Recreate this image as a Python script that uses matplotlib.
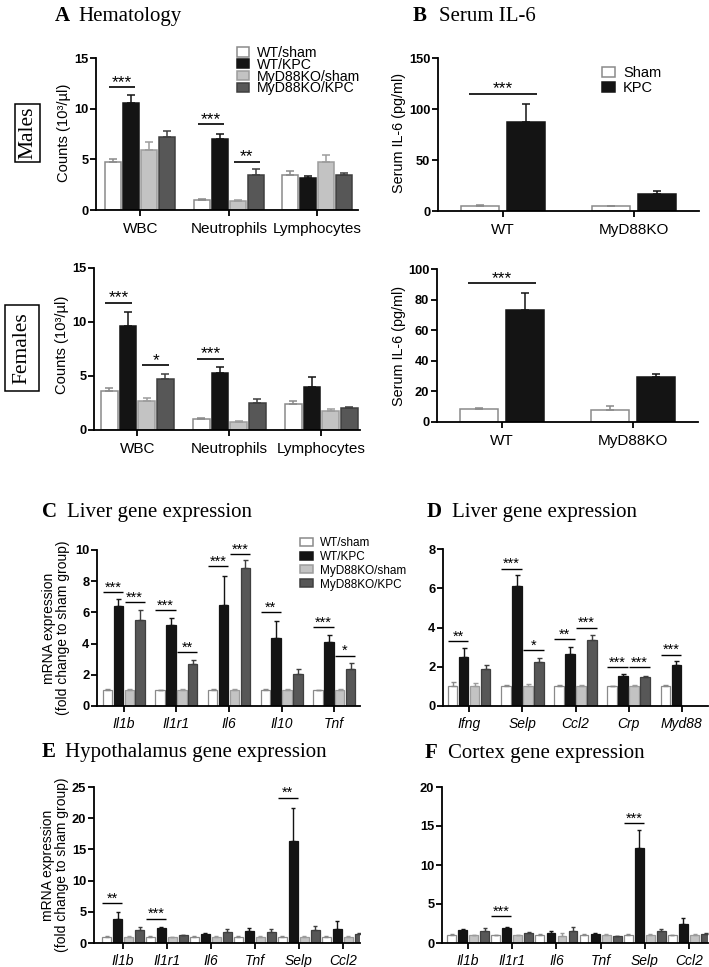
import numpy as np
import matplotlib
matplotlib.use("Agg")
import matplotlib.pyplot as plt
from matplotlib.patches import Rectangle

plt.rcParams['font.family'] = ['Liberation Sans', 'DejaVu Sans']
SERIF = ['Liberation Serif', 'DejaVu Serif']

# ---------------- data ----------------
group_names = ['WT/sham', 'WT/KPC', 'MyD88KO/sham', 'MyD88KO/KPC']
serum_names = ['Sham', 'KPC']

hema_cats = ['WBC', 'Neutrophils', 'Lymphocytes']
male_wt_sham = [4.75, 0.98, 3.44]
male_wt_kpc = [10.6, 7.05, 3.11]
male_ko_sham = [5.97, 0.89, 4.75]
male_ko_kpc = [7.2, 3.5, 3.41]
male_wt_sham_err = [0.33, 0.10, 0.40]
male_wt_kpc_err = [0.70, 0.49, 0.27]
male_ko_sham_err = [0.75, 0.11, 0.66]
male_ko_kpc_err = [0.57, 0.50, 0.29]

female_wt_sham = [3.6, 0.98, 2.4]
female_wt_kpc = [9.63, 5.29, 3.97]
female_ko_sham = [2.7, 0.74, 1.78]
female_ko_kpc = [4.7, 2.52, 2.0]
female_wt_sham_err = [0.30, 0.12, 0.28]
female_wt_kpc_err = [1.27, 0.56, 0.93]
female_ko_sham_err = [0.28, 0.12, 0.19]
female_ko_kpc_err = [0.47, 0.34, 0.15]

serum_cats = ['WT', 'MyD88KO']
male_il6_sham = [5.0, 4.5]
male_il6_kpc = [87.0, 16.5]
male_il6_sham_err = [0.9, 0.8]
male_il6_kpc_err = [18.0, 2.8]
female_il6_sham = [8.5, 8.0]
female_il6_kpc = [73.0, 29.5]
female_il6_sham_err = [0.8, 2.5]
female_il6_kpc_err = [11.5, 2.0]

liverC_genes = ['Il1b', 'Il1r1', 'Il6', 'Il10', 'Tnf']
liverC_wt_sham = [1.0, 1.0, 1.0, 1.0, 1.0]
liverC_wt_kpc = [6.4, 5.2, 6.47, 4.35, 4.1]
liverC_ko_sham = [1.0, 1.0, 1.0, 1.0, 1.0]
liverC_ko_kpc = [5.5, 2.7, 8.85, 2.06, 2.36]
liverC_wt_sham_err = [0.12, 0.05, 0.12, 0.12, 0.05]
liverC_wt_kpc_err = [0.43, 0.46, 1.85, 1.1, 0.45]
liverC_ko_sham_err = [0.08, 0.06, 0.08, 0.12, 0.08]
liverC_ko_kpc_err = [0.68, 0.27, 0.5, 0.32, 0.38]

liverD_genes = ['Ifng', 'Selp', 'Ccl2', 'Crp', 'Myd88']
liverD_wt_sham = [1.0, 1.0, 1.0, 1.0, 1.0]
liverD_wt_kpc = [2.5, 6.1, 2.66, 1.52, 2.11]
liverD_ko_sham = [1.0, 1.0, 1.0, 1.0, np.nan]
liverD_ko_kpc = [1.89, 2.25, 3.36, 1.5, np.nan]
liverD_wt_sham_err = [0.23, 0.08, 0.08, 0.04, 0.05]
liverD_wt_kpc_err = [0.43, 0.58, 0.37, 0.1, 0.18]
liverD_ko_sham_err = [0.15, 0.1, 0.06, 0.06, np.nan]
liverD_ko_kpc_err = [0.22, 0.22, 0.28, 0.04, np.nan]

brain_genes = ['Il1b', 'Il1r1', 'Il6', 'Tnf', 'Selp', 'Ccl2']
hyp_wt_sham = [1.0, 1.0, 1.0, 1.0, 1.0, 1.0]
hyp_wt_kpc = [3.9, 2.4, 1.5, 1.87, 16.4, 2.3]
hyp_ko_sham = [1.0, 0.9, 1.0, 1.0, 1.0, 1.0]
hyp_ko_kpc = [2.14, 1.3, 1.76, 1.76, 2.1, 1.5]
hyp_wt_sham_err = [0.15, 0.1, 0.06, 0.15, 0.2, 0.1]
hyp_wt_kpc_err = [1.1, 0.15, 0.18, 0.5, 5.3, 1.2]
hyp_ko_sham_err = [0.2, 0.06, 0.1, 0.15, 0.15, 0.06]
hyp_ko_kpc_err = [0.4, 0.06, 0.42, 0.5, 0.55, 0.15]

ctx_wt_sham = [1.0, 1.0, 1.0, 1.0, 1.0, 1.0]
ctx_wt_kpc = [1.7, 1.9, 1.3, 1.15, 12.2, 2.4]
ctx_ko_sham = [1.0, 1.0, 0.95, 1.0, 1.0, 1.0]
ctx_ko_kpc = [1.6, 1.3, 1.6, 0.85, 1.5, 1.15]
ctx_wt_sham_err = [0.15, 0.05, 0.1, 0.15, 0.15, 0.05]
ctx_wt_kpc_err = [0.1, 0.1, 0.2, 0.1, 2.3, 0.8]
ctx_ko_sham_err = [0.06, 0.05, 0.35, 0.1, 0.1, 0.15]
ctx_ko_kpc_err = [0.35, 0.05, 0.4, 0.1, 0.35, 0.15]

# ---------------- style ----------------
FACE4 = ['white', '#141414', '#c3c3c3', '#575757']
EDGE4 = ['#8a8a8a', '#141414', '#9c9c9c', '#3f3f3f']
FACE2 = ['white', '#141414']
EDGE2 = ['#8a8a8a', '#141414']

W, H = 709, 967
fig = plt.figure(figsize=(W / 100, H / 100), dpi=100)


def fx(px):
    return px / W


def fy(py):
    return 1 - py / H


def make_ax(l, t, r, b):
    return fig.add_axes([l / W, 1 - b / H, (r - l) / W, (b - t) / H])


def style_ax(ax, ylim, yticks, xlim, cats, xfs, italic=False, ytfs=9.3, xpad=4.5):
    ax.set_ylim(*ylim)
    ax.set_xlim(*xlim)
    ax.set_yticks(yticks)
    ax.set_xticks(range(len(cats)))
    ax.set_xticklabels(cats, fontsize=xfs, style='italic' if italic else 'normal')
    for s in ['top', 'right']:
        ax.spines[s].set_visible(False)
    for s in ['left', 'bottom']:
        ax.spines[s].set_linewidth(1.3)
    ax.tick_params(axis='y', length=4, width=1.3, labelsize=ytfs, pad=1.5)
    ax.tick_params(axis='x', length=4, width=1.3, pad=xpad)
    for lab in ax.get_yticklabels():
        lab.set_fontweight('bold')


def draw_bars(ax, series, errs, faces, edges, step, width, lw, cap, elw):
    n = len(series)
    for i in range(n):
        vals = np.asarray(series[i], dtype=float)
        er = np.asarray(errs[i], dtype=float)
        x = np.arange(len(vals)) + (i - (n - 1) / 2) * step
        ok = np.isfinite(vals)
        ax.bar(x[ok], vals[ok], width=width, color=faces[i], edgecolor=edges[i],
               linewidth=lw, zorder=2)
        ax.errorbar(x[ok], vals[ok], yerr=[np.zeros(ok.sum()), er[ok]], fmt='none',
                    ecolor=edges[i], elinewidth=elw, capsize=cap, capthick=elw, zorder=3)


def sig(ax, g, i, j, y, stars, n, step, width, f, fs, lw=1.2):
    x1 = g + (i - (n - 1) / 2) * step - f * width
    x2 = g + (j - (n - 1) / 2) * step + f * width
    ax.plot([x1, x2], [y, y], color='black', lw=lw, solid_capstyle='butt', clip_on=False)
    ax.annotate(stars, xy=((x1 + x2) / 2, y), xytext=(0, 0.3), textcoords='offset points',
                ha='center', va='baseline', fontsize=fs)


def title(xl, xw, base, letter, word, fs=15):
    fig.text(fx(xl), fy(base), letter, fontsize=fs, fontweight='bold', family=SERIF, va='baseline')
    fig.text(fx(xw), fy(base), word, fontsize=fs, family=SERIF, va='baseline')


def legend(x, y0, dy, bw, bh, tx, labels, faces, edges, fs):
    # swatches
    for k, (fc, ec) in enumerate(zip(faces, edges)):
        yy = y0 + k * dy
        fig.patches.append(Rectangle((fx(x), fy(yy + bh / 2)), bw / W, bh / H,
                                     transform=fig.transFigure, facecolor=fc,
                                     edgecolor=ec, linewidth=1.1))
    # labels as one multi-line text
    em = fs * 100 / 72
    ls = (dy - 0.22 * em) / (0.77 * em)
    fig.text(fx(tx), fy(y0 - 0.41 * em), '\n'.join(labels), fontsize=fs,
             va='top', ha='left', linespacing=ls)


def ylabel_px(text, xpx, ypx, fs, ls=1.0):
    fig.text(fx(xpx), fy(ypx), text, rotation=90, ha='center', va='center',
             fontsize=fs, linespacing=ls)


# ---------------- Panel A males ----------------
STEP_A, W_A = 0.203, 0.18
axAm = make_ax(96, 58, 358, 210)
draw_bars(axAm, [male_wt_sham, male_wt_kpc, male_ko_sham, male_ko_kpc],
          [male_wt_sham_err, male_wt_kpc_err, male_ko_sham_err, male_ko_kpc_err],
          FACE4, EDGE4, STEP_A, W_A, 1.1, 2.6, 1.1)
style_ax(axAm, (0, 15), [0, 5, 10, 15], (-0.5, 2.46), hema_cats, 11)
sig(axAm, 0, 0, 1, 12.1, '***', 4, STEP_A, W_A, 0.25, 12.5)
sig(axAm, 1, 0, 1, 8.46, '***', 4, STEP_A, W_A, 0.25, 12.5)
sig(axAm, 1, 2, 3, 4.75, '**', 4, STEP_A, W_A, 0.25, 12.5)
ylabel_px('Counts (10³/µl)', 64, 133, 10.6)

# ---------------- Panel A females ----------------
axAf = make_ax(94, 268, 360, 430)
draw_bars(axAf, [female_wt_sham, female_wt_kpc, female_ko_sham, female_ko_kpc],
          [female_wt_sham_err, female_wt_kpc_err, female_ko_sham_err, female_ko_kpc_err],
          FACE4, EDGE4, STEP_A, W_A, 1.1, 2.6, 1.1)
style_ax(axAf, (0, 15), [0, 5, 10, 15], (-0.47, 2.42), hema_cats, 11)
sig(axAf, 0, 0, 1, 11.8, '***', 4, STEP_A, W_A, 0.25, 12.5)
sig(axAf, 0, 2, 3, 6.0, '*', 4, STEP_A, W_A, 0.25, 12.5)
sig(axAf, 1, 0, 1, 6.6, '***', 4, STEP_A, W_A, 0.25, 12.5)
ylabel_px('Counts (10³/µl)', 62, 345, 10.6)

# ---------------- Panel B ----------------
STEP_B, W_B = 0.35, 0.29
axBm = make_ax(438, 58, 699, 211)
draw_bars(axBm, [male_il6_sham, male_il6_kpc], [male_il6_sham_err, male_il6_kpc_err],
          FACE2, EDGE2, STEP_B, W_B, 1.1, 3.0, 1.1)
style_ax(axBm, (0, 150), [0, 50, 100, 150], (-0.5, 1.5), serum_cats, 11)
sig(axBm, 0, 0, 1, 115, '***', 2, STEP_B, W_B, 0.3, 12.5)
ylabel_px('Serum IL-6 (pg/ml)', 399, 133, 10.4)

axBf = make_ax(437, 269, 698, 422)
draw_bars(axBf, [female_il6_sham, female_il6_kpc], [female_il6_sham_err, female_il6_kpc_err],
          FACE2, EDGE2, STEP_B, W_B, 1.1, 3.0, 1.1)
style_ax(axBf, (0, 100), [0, 20, 40, 60, 80, 100], (-0.5, 1.5), serum_cats, 11)
sig(axBf, 0, 0, 1, 90.8, '***', 2, STEP_B, W_B, 0.3, 12.5)
ylabel_px('Serum IL-6 (pg/ml)', 399, 346, 10.4)

# ---------------- Panel C ----------------
STEP_C, W_C = 0.207, 0.18
axC = make_ax(97, 550, 360, 706)
draw_bars(axC, [liverC_wt_sham, liverC_wt_kpc, liverC_ko_sham, liverC_ko_kpc],
          [liverC_wt_sham_err, liverC_wt_kpc_err, liverC_ko_sham_err, liverC_ko_kpc_err],
          FACE4, EDGE4, STEP_C, W_C, 0.9, 1.8, 1.0)
style_ax(axC, (0, 10), [0, 2, 4, 6, 8, 10], (-0.51, 4.49), liverC_genes, 10, italic=True, xpad=4)
for g, i, j, y, s in [(0, 0, 1, 7.3, '***'), (0, 2, 3, 6.65, '***'),
                      (1, 0, 1, 6.15, '***'), (1, 2, 3, 3.45, '**'),
                      (2, 0, 1, 8.98, '***'), (2, 2, 3, 9.72, '***'),
                      (3, 0, 1, 6.0, '**'),
                      (4, 0, 1, 5.06, '***'), (4, 2, 3, 3.23, '*')]:
    sig(axC, g, i, j, y, s, 4, STEP_C, W_C, 0.5, 10.5, lw=1.0)
ylabel_px('mRNA expression\n(fold change to sham group)', 56, 628, 10, ls=0.95)

# ---------------- Panel D ----------------
axD = make_ax(443, 549, 708, 706)
draw_bars(axD, [liverD_wt_sham, liverD_wt_kpc, liverD_ko_sham, liverD_ko_kpc],
          [liverD_wt_sham_err, liverD_wt_kpc_err, liverD_ko_sham_err, liverD_ko_kpc_err],
          FACE4, EDGE4, STEP_C, W_C, 0.9, 1.8, 1.0)
style_ax(axD, (0, 8), [0, 2, 4, 6, 8], (-0.49, 4.49), liverD_genes, 10, italic=True, xpad=4)
for g, i, j, y, s in [(0, 0, 1, 3.3, '**'),
                      (1, 0, 1, 7.0, '***'), (1, 2, 3, 2.85, '*'),
                      (2, 0, 1, 3.4, '**'), (2, 2, 3, 3.99, '***'),
                      (3, 0, 1, 1.98, '***'), (3, 2, 3, 1.98, '***'),
                      (4, 0, 1, 2.62, '***')]:
    sig(axD, g, i, j, y, s, 4, STEP_C, W_C, 0.5, 10.5, lw=1.0)

# ---------------- Panel E ----------------
STEP_E, W_E = 0.25, 0.2
axE = make_ax(94, 787, 360, 943)
draw_bars(axE, [hyp_wt_sham, hyp_wt_kpc, hyp_ko_sham, hyp_ko_kpc],
          [hyp_wt_sham_err, hyp_wt_kpc_err, hyp_ko_sham_err, hyp_ko_kpc_err],
          FACE4, EDGE4, STEP_E, W_E, 0.9, 1.6, 1.0)
style_ax(axE, (0, 25), [0, 5, 10, 15, 20, 25], (-0.66, 5.39), brain_genes, 10, italic=True, xpad=4)
for g, i, j, y, s in [(0, 0, 1, 6.4, '**'), (1, 0, 1, 3.9, '***'), (4, 0, 1, 23.3, '**')]:
    sig(axE, g, i, j, y, s, 4, STEP_E, W_E, 0.5, 10.5, lw=1.0)
ylabel_px('mRNA expression\n(fold change to sham group)', 55, 865, 10, ls=0.95)

# ---------------- Panel F ----------------
axF = make_ax(442, 787, 708, 943)
draw_bars(axF, [ctx_wt_sham, ctx_wt_kpc, ctx_ko_sham, ctx_ko_kpc],
          [ctx_wt_sham_err, ctx_wt_kpc_err, ctx_ko_sham_err, ctx_ko_kpc_err],
          FACE4, EDGE4, STEP_E, W_E, 0.9, 1.6, 1.0)
style_ax(axF, (0, 20), [0, 5, 10, 15, 20], (-0.59, 5.43), brain_genes, 10, italic=True, xpad=4)
for g, i, j, y, s in [(1, 0, 1, 3.5, '***'), (4, 0, 1, 15.4, '***')]:
    sig(axF, g, i, j, y, s, 4, STEP_E, W_E, 0.5, 10.5, lw=1.0)

# ---------------- titles ----------------
title(55, 78, 21, 'A', 'Hematology')
title(413, 439, 21, 'B', 'Serum IL-6')
title(42, 67, 517, 'C', 'Liver gene expression')
title(427, 452, 517, 'D', 'Liver gene expression')
title(42, 65, 757, 'E', 'Hypothalamus gene expression')
title(425, 448, 758, 'F', 'Cortex gene expression')

# ---------------- legends ----------------
legend(237, 52, 11.8, 12, 9, 257, group_names, FACE4, EDGE4, 10.2)
legend(602, 72, 15, 13, 9, 623, serum_names, FACE2, EDGE2, 10.5)
legend(300, 542, 13.5, 13, 8, 320, group_names, FACE4, EDGE4, 8.5)

# ---------------- sex labels ----------------
fig.text(fx(27.5), fy(133), 'Males', rotation=90, ha='center', va='center', fontsize=15.5,
         family=SERIF, bbox=dict(boxstyle='square,pad=0.12', fc='white', ec='black', lw=1.1))
fig.text(fx(22), fy(348), 'Females', rotation=90, ha='center', va='center', fontsize=15.5,
         family=SERIF, bbox=dict(boxstyle='square,pad=0.33', fc='white', ec='black', lw=1.1))

fig.savefig('out.png', dpi=100)
